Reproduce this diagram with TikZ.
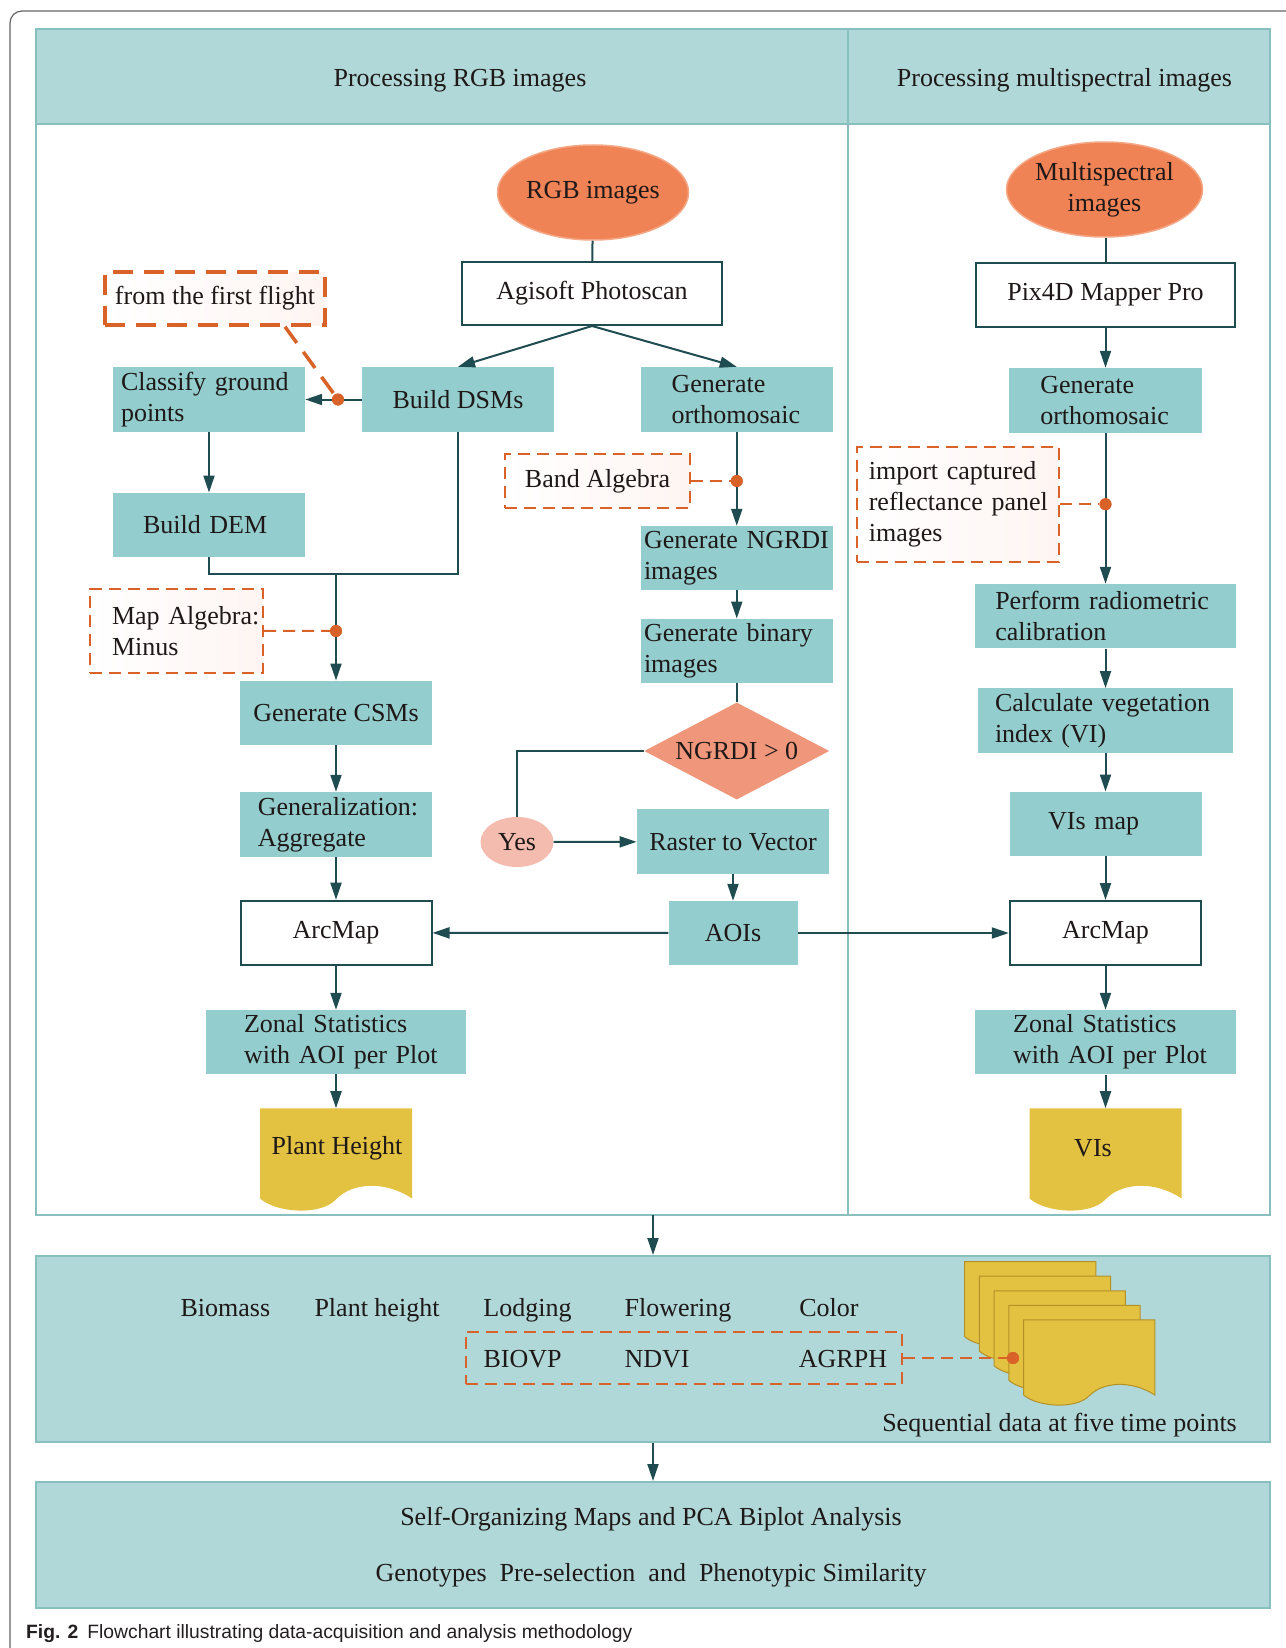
\documentclass[tikz,border=0pt]{standalone}
\usepackage{fontspec}
\setmainfont{Liberation Serif}
\newfontfamily\capfont{Liberation Sans}
\usetikzlibrary{shapes.geometric,arrows.meta,calc}

\definecolor{panelfill}{RGB}{177,216,216}
\definecolor{panelline}{RGB}{136,192,192}
\definecolor{boxfill}{RGB}{148,205,205}
\definecolor{darkline}{RGB}{31,76,80}
\definecolor{orangefill}{RGB}{239,131,86}
\definecolor{orangeline}{RGB}{245,168,134}
\definecolor{diamfill}{RGB}{240,151,123}
\definecolor{yesfill}{RGB}{244,188,174}
\definecolor{dashorange}{RGB}{217,98,40}
\definecolor{docfill}{RGB}{227,194,65}
\definecolor{docline}{RGB}{180,145,40}
\definecolor{txt}{RGB}{30,24,24}
\definecolor{framegray}{RGB}{100,100,100}
\definecolor{pinkish}{RGB}{254,245,242}

\begin{document}
\begin{tikzpicture}[x=1pt,y=-1pt,
  every node/.style={text=txt, font=\fontsize{26}{31}\selectfont},
  proc/.style={fill=boxfill, inner sep=0pt, minimum height=64pt},
  lproc/.style={proc, align=left},
  tool/.style={fill=white, draw=darkline, line width=2pt, inner sep=0pt, minimum height=63pt},
  oval/.style={ellipse, fill=orangefill, draw=orangeline, line width=1.5pt, inner sep=0pt, minimum width=191pt, minimum height=95pt, align=center},
  note/.style={draw=dashorange, line width=2pt, dash pattern=on 12pt off 7pt, left color=white, right color=pinkish, inner sep=0pt, align=left},
  notebox/.style={draw=dashorange, line width=2pt, dash pattern=on 12pt off 7pt, inner sep=0pt},
  arr/.style={draw=darkline, line width=2pt, -{Triangle[length=17pt,width=11pt]}},
  con/.style={draw=darkline, line width=2pt},
  dashcon/.style={draw=dashorange, line width=2pt, dash pattern=on 12pt off 7pt},
  odot/.style={circle, fill=dashorange, inner sep=0pt, minimum size=12pt},
  docnode/.style={inner sep=0pt, minimum width=152pt, minimum height=80pt},
  docpage/.pic={\path[pic actions] (-76,-40) -- (-76,50) .. controls (-61,64) and (-16,68) .. (0,51) .. controls (16,34) and (49,32) .. (76,50) -- (76,-40) -- cycle;},
]
\useasboundingbox (0,0) rectangle (1285,1648);

% outer frame
\draw[framegray, line width=1.2pt, rounded corners=12pt] (10,1700) -- (10,11) -- (1320,11);

% main panel
\fill[panelfill] (36,29) rectangle (1270,124);
\draw[panelline, line width=2pt] (36,29) rectangle (1270,1215);
\draw[panelline, line width=2pt] (36,124) -- (1270,124);
\draw[panelline, line width=2pt] (848,29) -- (848,1215);
\node[anchor=base] (hl) at (460,87) {Processing RGB images};
\node[anchor=base] (hr) at (1064.5,87) {Processing multispectral images};

% ---- RGB column ----
\node[oval] (rgb) at (593,192.5) {RGB images};
\node[tool, minimum width=260pt] (agi) at (592,293.5) {Agisoft Photoscan};
\node[note, line width=3.5pt, dash pattern=on 20pt off 11pt, minimum width=220pt, minimum height=53pt] (first) at (215,298.5) {from the first flight};
\node[lproc, text width=176pt, inner xsep=8pt, minimum height=65pt] (cls) at (209,399.5) {\mbox{Classify ground}\\points};
\node[proc, minimum width=192pt, minimum height=65pt] (dsm) at (458,399.5) {Build DSMs};
\node[lproc, text width=130.5pt, inner xsep=30.5pt, minimum height=65pt] (orthoL) at (736.75,399.5) {Generate\\\mbox{orthomosaic}};
\node[lproc, text width=132pt, inner xsep=30pt, minimum height=64.3pt] (dem) at (209,524.9) {Build DEM};
\node[note, minimum width=185pt, minimum height=54pt] (band) at (597.5,481) {Band Algebra};
\node[lproc, text width=185.5pt, inner xsep=3pt] (ngrdi) at (736.75,558) {\mbox{Generate NGRDI}\\images};
\node[lproc, text width=185.5pt, inner xsep=3pt] (binary) at (736.75,650.7) {\mbox{Generate binary}\\images};
\node[diamond, fill=diamfill, aspect=1.9, inner sep=0pt, minimum width=185pt, minimum height=97pt] (diam) at (736.75,751) {NGRDI > 0};
\node[ellipse, fill=yesfill, inner sep=0pt, minimum width=73pt, minimum height=50pt] (yes) at (517,842) {Yes};
\node[proc, minimum width=192.4pt, minimum height=64.7pt] (r2v) at (733,841.7) {Raster to Vector};
\node[proc, minimum width=129pt] (aois) at (733,933) {AOIs};
\node[note, text width=129pt, inner xsep=22pt, minimum height=83.7pt] (mapalg) at (176.5,630.9) {\mbox{Map Algebra:}\\Minus};
\node[proc, minimum width=191.4pt] (csm) at (336,712.7) {Generate CSMs};
\node[lproc, text width=156.5pt, inner xsep=17.5pt, minimum height=64.7pt] (genagg) at (336,824.35) {\mbox{Generalization:}\\Aggregate};
\node[tool, minimum width=191pt, minimum height=64.3pt] (arcL) at (336,932.85) {ArcMap};
\node[lproc, text width=184pt, inner xsep=38pt] (zonL) at (336,1042) {\mbox{Zonal Statistics}\\\mbox{with AOI per Plot}};
\pic[fill=docfill] at (336,1148.4) {docpage};
\node[docnode] (phL) at (337,1148.4) {Plant Height};

% ---- multispectral column ----
\node[oval] (msimg) at (1104.5,189.5) {Multispectral\\images};
\node[tool, minimum width=259pt, minimum height=64pt] (pix) at (1105.5,295) {Pix4D Mapper Pro};
\node[lproc, text width=130.5pt, inner xsep=31pt, minimum height=65pt] (orthoR) at (1105.5,400.5) {Generate\\\mbox{orthomosaic}};
\node[note, text width=178pt, inner xsep=12pt, minimum height=115pt] (import) at (957.8,504.2) {\mbox{import captured}\\\mbox{reflectance panel}\\images};
\node[lproc, text width=220.5pt, inner xsep=20pt, minimum height=64.3pt] (perf) at (1105.5,616.15) {\mbox{Perform radiometric}\\calibration};
\node[lproc, text width=221pt, inner xsep=17pt, minimum height=64.4pt] (calc) at (1105.5,720.5) {\mbox{Calculate vegetation}\\index (VI)};
\node[lproc, text width=114.8pt, inner xsep=38.6pt, minimum height=64.3pt] (vimap) at (1105.5,823.85) {VIs map};
\node[tool, minimum width=191.4pt, minimum height=64pt] (arcR) at (1105.5,933) {ArcMap};
\node[lproc, text width=184.6pt, inner xsep=38pt, minimum height=64.3pt] (zonR) at (1105.5,1042.15) {\mbox{Zonal Statistics}\\\mbox{with AOI per Plot}};
\pic[fill=docfill] at (1105.5,1148.4) {docpage};
\node[docnode] (visd) at (1093,1148.4) {VIs};

% ---- connectors, RGB column ----
\draw[con] (rgb) -- (agi);
\draw[arr] (agi.south) -- (dsm.north);
\draw[arr] (agi.south) -- (orthoL.north);
\draw[arr] (dsm.west) -- (cls.east);
\draw[arr] (cls) -- (dem);
\coordinate (j) at (336,574);
\draw[con] (dem.south) |- (j);
\draw[con] (dsm.south) |- (j);
\draw[arr] (j) -- (csm.north);
\draw[arr] (orthoL) -- (ngrdi);
\draw[arr] (ngrdi) -- (binary);
\draw[con] (binary) -- (diam);
\draw[con] (diam.west) -| (yes.north);
\draw[arr] (yes) -- (r2v);
\draw[arr] (r2v) -- (aois);
\draw[arr] (aois) -- (arcL);
\draw[arr] (aois) -- (arcR);
\draw[arr] (csm) -- (genagg);
\draw[arr] (genagg) -- (arcL);
\draw[arr] (arcL) -- (zonL);
\draw[arr] (zonL.south) -- (zonL.south |- phL.north);
\node[odot] (d1) at (338,399.5) {};
\node[odot] (d2) at (336,631) {};
\node[odot] (d3) at (736.75,481) {};
\draw[dashcon, line width=3.5pt, dash pattern=on 20pt off 11pt] ([xshift=70pt]first.south) -- (d1);
\draw[dashcon] (mapalg.east) -- (d2);
\draw[dashcon] (band.east) -- (d3);
\node[odot] at (d1) {};
\node[odot] at (d2) {};
\node[odot] at (d3) {};

% ---- connectors, multispectral column ----
\draw[con] (msimg.south -| pix.north) -- (pix.north);
\draw[arr] (pix) -- (orthoR);
\draw[arr] (orthoR) -- (perf);
\node[odot] (d4) at (1105.5,504.2) {};
\draw[dashcon] (import.east) -- (d4);
\node[odot] at (d4) {};
\draw[arr] (perf) -- (calc);
\draw[arr] (calc) -- (vimap);
\draw[arr] (vimap) -- (arcR);
\draw[arr] (arcR) -- (zonR);
\draw[arr] (zonR.south) -- (zonR.south |- visd.north);

% ---- panel 2 ----
\node[fill=panelfill, draw=panelline, line width=2pt, inner sep=0pt, minimum width=1234pt, minimum height=185.7pt] (pn2) at (653,1348.85) {};
\node[anchor=base] (t1) at (225.4,1316.5) {Biomass};
\node[anchor=base] (t2) at (377,1316.5) {Plant height};
\node[anchor=base] (t3) at (527.5,1316.5) {Lodging};
\node[anchor=base] (t4) at (678,1316.5) {Flowering};
\node[anchor=base] (t5) at (829,1316.5) {Color};
\node[notebox, minimum width=436.5pt, minimum height=52.6pt] (dbox) at (683.75,1358) {};
\node[anchor=base] (u1) at (522.5,1367) {BIOVP};
\node[anchor=base] (u2) at (657,1367) {NDVI};
\node[anchor=base] (u3) at (843,1367) {AGRPH};
\foreach \k/\cx/\cy in {1/1030.2/1294.9, 2/1044.95/1309.5, 3/1059.7/1324.1, 4/1074.45/1338.7, 5/1089.2/1353.3}
  \pic[fill=docfill, draw=docline, line width=1pt, xscale=0.863, yscale=0.833] at (\cx,\cy) {docpage};
\node[odot] (sdot) at (1013,1358) {};
\draw[dashcon] (dbox.east) -- (sdot);
\node[odot] at (sdot) {};
\node[anchor=base] (seq) at (1059.5,1431.5) {Sequential data at five time points};

% ---- panel 3 ----
\node[fill=panelfill, draw=panelline, line width=2pt, inner sep=0pt, minimum width=1234pt, minimum height=126pt] (pn3) at (653,1545) {};
\node[anchor=base] (som) at (651,1525.5) {Self-Organizing Maps and PCA Biplot Analysis};
\node[anchor=base] (geno) at (651,1581.5) {Genotypes\ \ Pre-selection\ \ and\ \ Phenotypic Similarity};

\coordinate (mainS) at (653,1215);
\draw[arr] (mainS) -- (pn2.north);
\draw[arr] (pn2.south) -- (pn3.north);

% caption
\node[anchor=base west, font=\capfont\fontsize{19.3}{23}\selectfont, text={rgb,255:red,35;green,31;blue,32}, inner sep=0pt] (cap) at (26,1638) {\textbf{Fig. 2}\hspace{9pt}Flowchart illustrating data-acquisition and analysis methodology};
\end{tikzpicture}
\end{document}
